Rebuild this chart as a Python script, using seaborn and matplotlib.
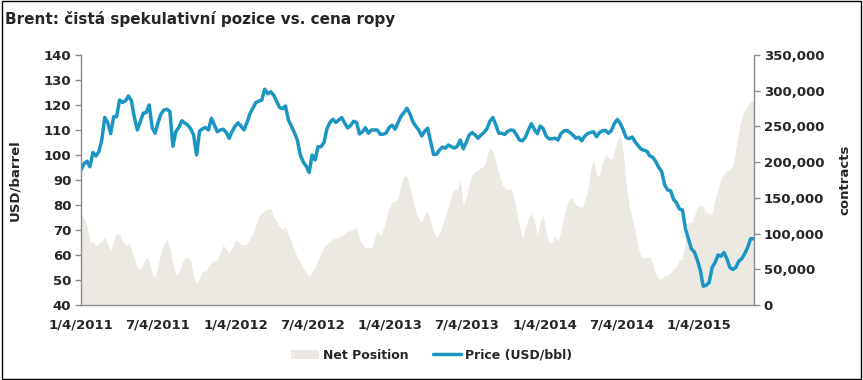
import numpy as np
import pandas as pd
import seaborn as sns
import matplotlib.pyplot as plt
from matplotlib.patches import Patch, Rectangle
from matplotlib.lines import Line2D
from matplotlib.ticker import FuncFormatter

# weekly Brent price, USD/bbl (from 4 Jan 2011)
price = [
    94, 96.5, 97.5, 95.3, 101, 99.6, 101.3, 106, 115, 113,
    108.5, 115.3, 115.3, 122, 121, 121.7, 123.6, 121.7, 115, 110,
    113.3, 116.7, 117, 120, 111, 108.7, 113, 116.5, 118, 118.3,
    117.3, 103.5, 109.3, 111, 113.7, 112.8, 112, 110.5, 108, 100,
    109.5, 110.5, 111, 110, 114.7, 112, 109.3, 110, 110.3, 109,
    106.7, 109.5, 111.5, 112.9, 111.5, 110, 113, 116.5, 118.7, 121,
    121.5, 122, 126.3, 124.5, 125.3, 124, 121.5, 119, 118.5, 119.6,
    114, 111.5, 109, 106, 100, 97.2, 95.5, 93, 100, 98,
    103.3, 103.3, 105, 110.5, 113, 114.3, 113, 114, 115, 112.7,
    110.8, 111.8, 113.5, 113, 108.4, 109.3, 110.9, 108.7, 110, 110,
    110, 108.3, 108.3, 108.8, 111, 111.9, 110.3, 113, 115.5, 117,
    118.7, 116.5, 113.3, 111.5, 110, 107.6, 109.5, 110.7, 105.3, 100.2,
    100.3, 102, 103.2, 102.7, 104, 103.3, 102.8, 103.5, 106, 102.5,
    105, 108, 109, 108, 106.7, 108, 109, 110.5, 113.5, 115,
    112, 108.7, 108.7, 108.2, 109.5, 110, 109.8, 108, 106, 105.7,
    107.1, 110, 112.5, 110.3, 108.5, 111.6, 110.5, 107.5, 106.5, 106.5,
    106.7, 106, 108.6, 109.6, 109.8, 109, 108, 106.7, 107.1, 105.7,
    107.5, 108.6, 109, 109.3, 107.3, 109, 109.7, 109.8, 108.7, 109.8,
    112.6, 114.2, 112.6, 110, 107, 106.5, 107.2, 105.3, 103.8, 102.4,
    101.9, 101.5, 99.6, 99.1, 97.3, 95, 93.3, 88, 86, 85.7,
    82.2, 80.8, 78.4, 78, 70.5, 66.5, 62.5, 61.2, 58, 54,
    47.5, 47.9, 49, 55, 57, 60, 59.5, 61, 58.5, 55,
    54.2, 55, 57.5, 58.5, 60.5, 63, 66.5, 66.5,
]

# net speculative position, thousands of contracts
net_position_k = [
    126, 121, 112, 87, 88, 83, 86, 89, 95, 86,
    76, 90, 100, 98, 90, 84, 86, 78, 66, 53,
    50, 58, 66, 62, 44, 38, 56, 74, 86, 91,
    80, 58, 42, 46, 58, 66, 67, 63, 40, 30,
    38, 48, 47, 54, 61, 62, 63, 74, 84, 78,
    73, 80, 90, 89, 85, 84, 86, 92, 100, 112,
    124, 129, 132, 134, 135, 124, 117, 110, 106, 110,
    99, 88, 77, 67, 60, 52, 45, 40, 47, 53,
    64, 72, 82, 85, 89, 92, 94, 96, 97, 100,
    103, 104, 106, 109, 91, 85, 80, 81, 79, 92,
    104, 97, 106, 120, 136, 145, 145, 150, 168, 181,
    180, 166, 148, 130, 120, 116, 126, 132, 115, 102,
    95, 100, 112, 125, 138, 154, 162, 161, 176, 140,
    150, 170, 182, 187, 189, 192, 195, 208, 220, 215,
    200, 184, 170, 164, 161, 163, 152, 132, 110, 92,
    108, 122, 128, 120, 96, 117, 126, 100, 86, 89,
    95, 90, 104, 125, 140, 150, 148, 140, 138, 136,
    146, 160, 190, 203, 182, 180, 200, 210, 206, 204,
    216, 230, 238, 212, 170, 138, 122, 105, 82, 67,
    66, 66, 68, 56, 44, 37, 37, 42, 42, 45,
    50, 54, 64, 64, 92, 116, 116, 125, 136, 141,
    138, 130, 128, 127, 148, 162, 176, 184, 188, 190,
    195, 218, 244, 262, 273, 279, 286, 285,
]

tick_dates = ["2011-01-04", "2011-07-04", "2012-01-04", "2012-07-04", "2013-01-04",
              "2013-07-04", "2014-01-04", "2014-07-04", "2015-01-04"]
tick_labels = ["1/4/2011", "7/4/2011", "1/4/2012", "7/4/2012", "1/4/2013",
               "7/4/2013", "1/4/2014", "7/4/2014", "1/4/2015"]

dates = pd.date_range("2011-01-04", periods=len(price), freq="7D")
df = pd.DataFrame({"date": dates, "price": price,
                   "net": np.array(net_position_k) * 1000})

blue = "#1b95c2"
beige = "#ebe9e1"
axis_grey = "#8c8c8c"

sns.set_style("white")
plt.rcParams["font.family"] = ["DejaVu Sans"]
plt.rcParams["font.weight"] = "bold"

fig = plt.figure(figsize=(8.63, 3.8), dpi=100)
ax = fig.add_axes([0.0939, 0.1974, 0.7798, 0.6579])
ax2 = ax.twinx()

ax2.fill_between(df["date"], df["net"], color=beige, lw=0)
sns.lineplot(data=df, x="date", y="price", ax=ax, color=blue, lw=2.5)
ax.set_zorder(ax2.get_zorder() + 1)
ax.patch.set_visible(False)

ax.set_xlim(pd.Timestamp("2011-01-04"), pd.Timestamp("2015-05-13"))
ax.set_ylim(40, 140)
ax.set_yticks(range(40, 141, 10))
ax2.set_ylim(0, 350000)
ax2.set_yticks(range(0, 350001, 50000))
ax2.yaxis.set_major_formatter(FuncFormatter(lambda v, p: f"{int(v):,}"))
ax.set_xticks(pd.to_datetime(tick_dates))
ax.set_xticklabels(tick_labels)

for a in (ax, ax2):
    for s in a.spines.values():
        s.set_color(axis_grey)
        s.set_linewidth(1)
    a.spines["top"].set_visible(False)
    a.tick_params(axis="both", direction="out", length=4, width=1,
                  color=axis_grey, labelsize=9.5, pad=3)
ax.tick_params(axis="x", pad=6)
ax.spines["right"].set_visible(False)
ax2.spines["left"].set_visible(False)
ax2.spines["bottom"].set_visible(False)

ax.set_xlabel("")
ax.set_ylabel("USD/barrel", fontsize=9.5, fontweight="bold", labelpad=16)
ax2.set_ylabel("contracts", fontsize=9.5, fontweight="bold", labelpad=10, rotation=90)

fig.text(0.006, 0.95, "Brent: čistá spekulativní pozice vs. cena ropy",
         fontsize=11, fontweight="bold", ha="left", va="center")

handles = [Patch(facecolor=beige, edgecolor="none", label="Net Position"),
           Line2D([0], [0], color=blue, lw=2.5, label="Price (USD/bbl)")]
fig.legend(handles=handles, loc="center", bbox_to_anchor=(0.5, 0.065), ncol=2,
           frameon=False, fontsize=9, handlelength=2.2, columnspacing=2.0,
           handletextpad=0.3)

fig.patches.append(Rectangle((0.002, 0.003), 0.996, 0.994, transform=fig.transFigure,
                             fill=False, edgecolor="black", lw=1))

fig.savefig("out.png", dpi=100)
